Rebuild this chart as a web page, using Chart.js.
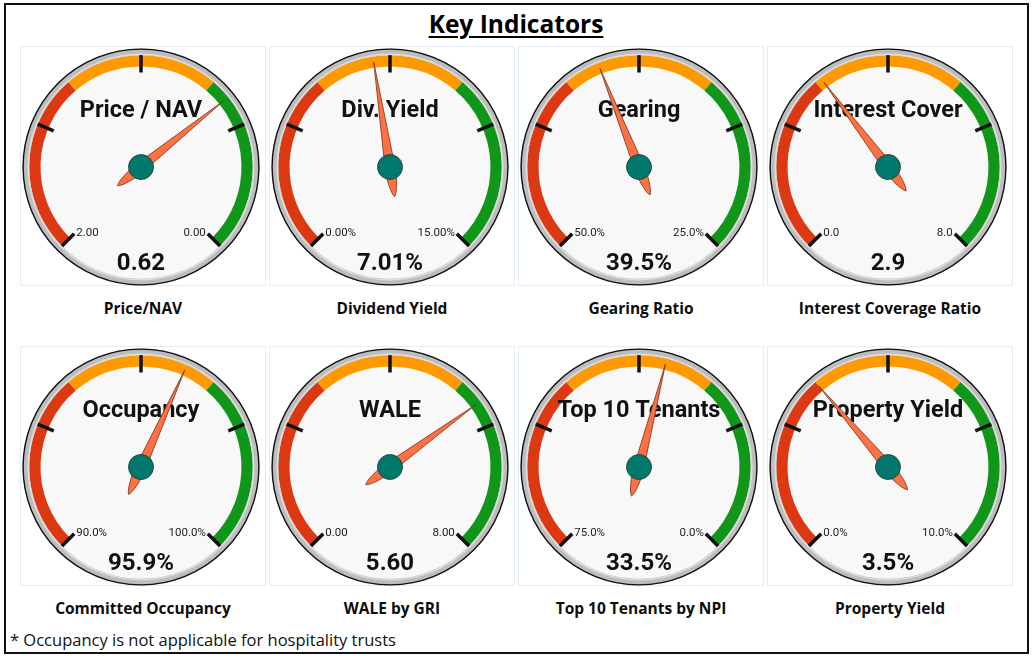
<!DOCTYPE html>
<html>
<head>
<meta charset="utf-8">
<script src="https://cdn.jsdelivr.net/npm/chart.js@4.4.1/dist/chart.umd.min.js"></script>
<style>
  body { margin: 0; background: #fff; font-family: "Open Sans", Lato, sans-serif; }
  #frame { position: absolute; left: 4px; top: 3px; width: 1025px; height: 651px; box-sizing: border-box; border: 2px solid #111; }
  #title { position: absolute; left: 0; top: 8px; width: 1032px; text-align: center; font-weight: bold; font-size: 24.5px; line-height: 32px; color: #000; }
  #title span { text-decoration: underline; text-decoration-thickness: 2px; text-underline-offset: 3px; }
  .box { position: absolute; width: 246px; height: 240px; box-sizing: border-box; border: 1px solid #e4ecf8; }
  .box canvas { position: absolute; left: 0; top: 0; }
  .caption { position: absolute; width: 246px; text-align: center; font-weight: bold; font-size: 15.5px; line-height: 20px; color: #0d0d0d; }
  #note { position: absolute; left: 10px; top: 630px; font-size: 16.5px; line-height: 20px; color: #111; }
</style>
</head>
<body>
<div id="frame"></div>
<div id="title"><span>Key Indicators</span></div>
<div id="gauges"></div>
<div id="note">* Occupancy is not applicable for hospitality trusts</div>

<script>
// Gauge data
const gaugeTitles = ['Price / NAV', 'Div. Yield', 'Gearing', 'Interest Cover', 'Occupancy', 'WALE', 'Top 10 Tenants', 'Property Yield'];
const captions = ['Price/NAV', 'Dividend Yield', 'Gearing Ratio', 'Interest Coverage Ratio', 'Committed Occupancy', 'WALE by GRI', 'Top 10 Tenants by NPI', 'Property Yield'];
const values = [0.62, 7.01, 39.5, 2.9, 95.9, 5.60, 33.5, 3.5];
const scaleStart = [2, 0, 50, 0, 90, 0, 75, 0];   // value at left end of dial
const scaleEnd = [0, 15, 25, 8, 100, 8, 0, 10];   // value at right end of dial
const decimals = [2, 2, 1, 1, 1, 2, 1, 1];
const units = ['', '%', '%', '', '%', '', '%', '%'];

// colour bands (percent of dial, left to right)
const bandSizes = [35, 30, 35];
const bandColors = ['#dc3912', '#ff9900', '#109618'];

const boxLeft = [20, 269, 518, 767];
const boxTop = [46, 346];

// Draws face, ticks, labels, needle on top of the doughnut
const gaugePlugin = {
    id: 'gauge',
    beforeDatasetsDraw(chart) {
        const ctx = chart.ctx;
        const bezel = chart.getDatasetMeta(0).data[0];
        ctx.save();
        ctx.beginPath();
        ctx.arc(bezel.x, bezel.y, bezel.innerRadius + 0.5, 0, Math.PI * 2);
        ctx.fillStyle = '#f8f8f8';
        ctx.fill();
        ctx.restore();
    },
    afterDatasetsDraw(chart) {
        const g = chart.options.plugins.gauge;
        const ctx = chart.ctx;
        const bezel = chart.getDatasetMeta(0).data[0];
        const band = chart.getDatasetMeta(1).data;
        const cx = band[0].x, cy = band[0].y;
        const rOut = band[0].outerRadius, rIn = band[0].innerRadius;
        const a0 = band[0].startAngle, a1 = band[band.length - 1].endAngle;

        ctx.save();
        // bezel edges
        ctx.beginPath();
        ctx.arc(cx, cy, bezel.outerRadius - 0.6, 0, Math.PI * 2);
        ctx.strokeStyle = '#111';
        ctx.lineWidth = 1.4;
        ctx.stroke();
        ctx.beginPath();
        ctx.arc(cx, cy, bezel.innerRadius + 1, 0, Math.PI * 2);
        ctx.strokeStyle = '#dedede';
        ctx.lineWidth = 1.5;
        ctx.stroke();

        // tick marks
        ctx.strokeStyle = '#111';
        ctx.lineWidth = 3.5;
        for (let i = 0; i <= 4; i++) {
            const a = a0 + i * (a1 - a0) / 4;
            ctx.beginPath();
            ctx.moveTo(cx + Math.cos(a) * rOut, cy + Math.sin(a) * rOut);
            ctx.lineTo(cx + Math.cos(a) * (rIn - 6), cy + Math.sin(a) * (rIn - 6));
            ctx.stroke();
        }

        // end labels
        const fmt = v => v.toFixed(g.decimals) + g.unit;
        ctx.fillStyle = '#222';
        ctx.font = '11.5px Roboto';
        ctx.textBaseline = 'middle';
        const r0 = rIn - 6;
        ctx.textAlign = 'left';
        ctx.fillText(fmt(g.start), cx + Math.cos(a0) * r0 + 2, cy + Math.sin(a0) * r0 - 1);
        ctx.textAlign = 'right';
        ctx.fillText(fmt(g.end), cx + Math.cos(a1) * r0 - 2, cy + Math.sin(a1) * r0 - 1);

        // title and value
        ctx.textAlign = 'center';
        ctx.fillStyle = '#111';
        ctx.font = 'bold 23.5px Roboto';
        ctx.fillText(g.title, cx, cy - 56);
        ctx.font = 'bold 24px Roboto';
        ctx.fillText(fmt(g.value), cx, cy + 97);

        // needle
        const frac = (g.value - g.start) / (g.end - g.start);
        const ang = a0 + frac * (a1 - a0);
        const L = rOut - 5.5;
        ctx.translate(cx, cy);
        ctx.rotate(ang);
        ctx.beginPath();
        ctx.moveTo(L, 0);
        ctx.lineTo(0, -5);
        ctx.bezierCurveTo(-12, -5.5, -27, -3, -30, 0);
        ctx.bezierCurveTo(-27, 3, -12, 5.5, 0, 5);
        ctx.closePath();
        ctx.fillStyle = '#ff7043';
        ctx.fill();
        ctx.strokeStyle = '#7a3b25';
        ctx.lineWidth = 0.8;
        ctx.stroke();

        // hub
        ctx.beginPath();
        ctx.arc(0, 0, 12.5, 0, Math.PI * 2);
        ctx.fillStyle = '#00786c';
        ctx.fill();
        ctx.strokeStyle = '#2b3b38';
        ctx.lineWidth = 0.8;
        ctx.stroke();
        ctx.restore();
    }
};

const holder = document.getElementById('gauges');

values.forEach((value, i) => {
    const col = i % 4, row = Math.floor(i / 4);

    const box = document.createElement('div');
    box.className = 'box';
    box.style.left = boxLeft[col] + 'px';
    box.style.top = boxTop[row] + 'px';
    const canvas = document.createElement('canvas');
    canvas.width = 240;
    canvas.height = 240;
    canvas.style.width = '240px';
    canvas.style.height = '240px';
    box.appendChild(canvas);
    holder.appendChild(box);

    const cap = document.createElement('div');
    cap.className = 'caption';
    cap.style.left = boxLeft[col] + 'px';
    cap.style.top = (boxTop[row] + 252) + 'px';
    cap.textContent = captions[i];
    holder.appendChild(cap);

    new Chart(canvas.getContext('2d'), {
        type: 'doughnut',
        data: {
            datasets: [
                {
                    data: [1],
                    backgroundColor: ['#bdbdbd'],
                    borderWidth: 0,
                    weight: 6.5,
                    rotation: -135,
                    circumference: 360
                },
                {
                    data: bandSizes,
                    backgroundColor: bandColors,
                    borderWidth: 0,
                    weight: 11,
                    rotation: -135,
                    circumference: 270
                }
            ]
        },
        options: {
            responsive: false,
            animation: false,
            events: [],
            radius: 118.5,
            cutout: '84.8%',
            layout: { padding: 0 },
            plugins: {
                legend: { display: false },
                tooltip: { enabled: false },
                gauge: {
                    title: gaugeTitles[i],
                    value: value,
                    start: scaleStart[i],
                    end: scaleEnd[i],
                    decimals: decimals[i],
                    unit: units[i]
                }
            }
        },
        plugins: [gaugePlugin]
    });
});
</script>
</body>
</html>
